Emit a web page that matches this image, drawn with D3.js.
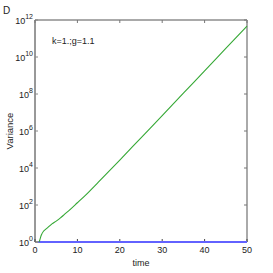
<!DOCTYPE html>
<html>
<head>
<meta charset="utf-8">
<script src="https://cdn.jsdelivr.net/npm/d3@7"></script>
<style>
  body { margin: 0; background: #fff; }
  svg text { font-family: "Liberation Sans", Arial, sans-serif; fill: #222; }
</style>
</head>
<body>
<div id="chart"></div>
<script>
// green series
const timeGreen = [1, 1.5, 2, 2.5, 3, 4, 5, 6, 7, 8, 10, 12, 15, 20, 25, 30, 35, 40, 45, 50];
const varGreen = [1, 2.4, 3.8, 4.8, 6.0, 9.5, 13.5, 20, 32, 50, 132, 355, 1780, 2.7e4, 4.3e5, 6.8e6, 1.1e8, 1.8e9, 2.9e10, 4.7e11];
// blue series, flat at 1
const timeBlue = [0.8, 50];
const varBlue = [1, 1];

const xTicks = [0, 10, 20, 30, 40, 50];
const yExps = [0, 2, 4, 6, 8, 10, 12];

const W = 273, H = 273;
const margin = {top: 20, right: 26, bottom: 31, left: 35};
const w = W - margin.left - margin.right;
const h = H - margin.top - margin.bottom;

const svg = d3.select("#chart").append("svg")
    .attr("width", W)
    .attr("height", H);

const g = svg.append("g")
    .attr("transform", `translate(${margin.left},${margin.top})`);

const x = d3.scaleLinear().domain([0, 50]).range([0, w]);
const y = d3.scaleLog().domain([1, 1e12]).range([h, 0]);

// box: top and right in grey
g.append("line").attr("x1", 0).attr("x2", w).attr("y1", 0).attr("y2", 0)
    .attr("stroke", "#555").attr("stroke-width", 1);
g.append("line").attr("x1", w).attr("x2", w).attr("y1", 0).attr("y2", h)
    .attr("stroke", "#aaa").attr("stroke-width", 2);

// left and bottom axes
g.append("line").attr("x1", 0).attr("x2", 0).attr("y1", 0).attr("y2", h)
    .attr("stroke", "#333");
g.append("line").attr("x1", 0).attr("x2", w).attr("y1", h).attr("y2", h)
    .attr("stroke", "#333");

// inward ticks on all sides
xTicks.forEach(t => {
    g.append("line").attr("x1", x(t)).attr("x2", x(t)).attr("y1", h).attr("y2", h - 3)
        .attr("stroke", "#444");
    g.append("line").attr("x1", x(t)).attr("x2", x(t)).attr("y1", 0).attr("y2", 3)
        .attr("stroke", "#777");
});
yExps.forEach(e => {
    g.append("line").attr("x1", 0).attr("x2", 3).attr("y1", y(10 ** e)).attr("y2", y(10 ** e))
        .attr("stroke", "#888");
    g.append("line").attr("x1", w).attr("x2", w - 3).attr("y1", y(10 ** e)).attr("y2", y(10 ** e))
        .attr("stroke", "#777");
});

// lines
const line = d3.line().x(d => x(d[0])).y(d => y(d[1]));

g.append("path")
    .datum(timeBlue.map((t, i) => [t, varBlue[i]]))
    .attr("d", line)
    .attr("fill", "none")
    .attr("stroke", "#6262ff")
    .attr("stroke-width", 2.2);

g.append("path")
    .datum(timeGreen.map((t, i) => [t, varGreen[i]]))
    .attr("d", d3.line().curve(d3.curveMonotoneX).x(d => x(d[0])).y(d => y(d[1])))
    .attr("fill", "none")
    .attr("stroke", "#35a835")
    .attr("stroke-width", 1.1);

// tick labels
xTicks.forEach(t => {
    g.append("text")
        .attr("x", x(t))
        .attr("y", h + 11)
        .attr("text-anchor", "middle")
        .style("font-size", "9px")
        .text(t);
});

yExps.forEach(e => {
    const tx = g.append("text")
        .attr("x", -2)
        .attr("y", y(10 ** e) + 4)
        .attr("text-anchor", "end")
        .style("font-size", "9px");
    tx.append("tspan").text("10");
    tx.append("tspan")
        .attr("dy", -5)
        .style("font-size", "7px")
        .text(e);
});

// axis titles
svg.append("text")
    .attr("x", margin.left + w / 2)
    .attr("y", 266)
    .attr("text-anchor", "middle")
    .style("font-size", "9px")
    .text("time");

svg.append("text")
    .attr("transform", `translate(13,${margin.top + h / 2}) rotate(-90)`)
    .attr("text-anchor", "middle")
    .style("font-size", "9.5px")
    .text("Variance");

svg.append("text")
    .attr("x", 52)
    .attr("y", 44)
    .style("font-size", "9px")
    .text("k=1.;g=1.1");

svg.append("text")
    .attr("x", 3)
    .attr("y", 14)
    .style("font-size", "10px")
    .text("D");
</script>
</body>
</html>
